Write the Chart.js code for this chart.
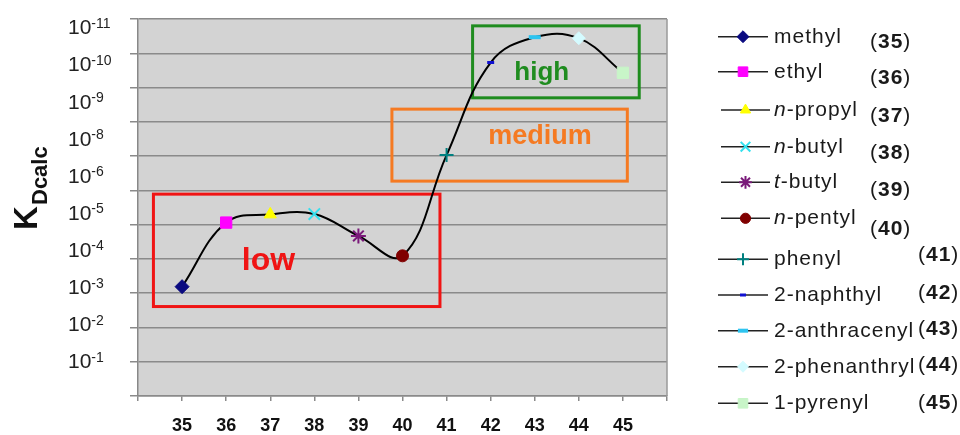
<!DOCTYPE html>
<html><head><meta charset="utf-8">
<script src="https://cdn.jsdelivr.net/npm/chart.js@4.4.1/dist/chart.umd.min.js"></script>
<style>html,body{margin:0;padding:0;background:#fff;}#wrap{position:relative;width:960px;height:435px;}</style>
</head><body><div id="wrap"><canvas id="c"></canvas></div>
<script>
// ---- data ----
const compoundIds = [35, 36, 37, 38, 39, 40, 41, 42, 43, 44, 45];
const compoundNames = ['methyl', 'ethyl', 'n-propyl', 'n-butyl', 't-butyl', 'n-pentyl', 'phenyl', '2-naphthyl', '2-anthracenyl', '2-phenanthryl', '1-pyrenyl'];
// position of each K_Dcalc on the grid scale (grid steps counted from the bottom line)
const kdGridLevel = [3.19, 5.06, 5.30, 5.31, 4.67, 4.09, 7.03, 9.73, 10.47, 10.44, 9.43];
// y tick labels, bottom to top: base and exponent
const yTickBase = ['10', '10', '10', '10', '10', '10', '10', '10', '10', '10'];
const yTickExp = ['-1', '-2', '-3', '-4', '-5', '-6', '-8', '-9', '-10', '-11'];
const regionLabels = ['low', 'medium', 'high'];

// ---- styles ----
const markerColors = ['#0a0a80', '#ff00ff', '#ffff00', '#33e0ee', '#7a1a7a', '#800000', '#008080', '#1010d0', '#2ec4f0', '#d4fbff', '#c8f5c8'];
const markerStyles = ['rectRot', 'rect', 'triangle', 'crossRot', 'star', 'circle', 'cross', 'line', 'line', 'rectRot', 'rect'];
const markerRadius = [7, 8, 7, 8, 7.5, 6, 7, 3.5, 6, 6.5, 8];
const markerBorder = [1, 1, 1, 2, 2, 1, 2, 3, 4, 1, 1];
const regionBoxes = [
  {x0: 34.35, x1: 40.85, y0: 2.61, y1: 5.89, tx: 36.96, ty: 3.92, color: '#f01414', font: 'bold 32px "Liberation Sans", Arial, sans-serif'},
  {x0: 39.76, x1: 45.10, y0: 6.27, y1: 8.37, tx: 43.12, ty: 7.57, color: '#f57a22', font: 'bold 27px "Liberation Sans", Arial, sans-serif'},
  {x0: 41.59, x1: 45.37, y0: 8.70, y1: 10.80, tx: 43.16, ty: 9.43, color: '#1f8c1f', font: 'bold 26px "Liberation Sans", Arial, sans-serif'}
];
const legendRowY = [36.7, 71.7, 110, 146.7, 182.3, 218.3, 259.3, 295, 330.7, 366.7, 403.3];
const legendNumY = [48, 84, 122, 159, 196, 235, 261, 299, 335, 371, 409];
const FONT = '"Liberation Sans", Arial, sans-serif';

const curveDataset = {
  type: 'line', label: 'curve',
  data: compoundIds.map((id, i) => ({x: id, y: kdGridLevel[i]})),
  borderColor: '#000', borderWidth: 2, pointRadius: 0, tension: 0.4, fill: false, order: 2
};
const markerDatasets = compoundIds.map((id, i) => ({
  type: 'scatter', label: compoundNames[i],
  data: [{x: id, y: kdGridLevel[i]}],
  pointStyle: markerStyles[i], pointRadius: markerRadius[i],
  backgroundColor: markerColors[i], borderColor: markerColors[i],
  pointBorderWidth: markerBorder[i], showLine: false, order: 1
}));

const decor = {
  id: 'decor',
  beforeDraw(chart) {
    const {ctx, chartArea: a} = chart;
    ctx.save();
    ctx.fillStyle = '#d3d3d3';
    ctx.fillRect(a.left, a.top, a.right - a.left, a.bottom - a.top);
    ctx.restore();
  },
  beforeDatasetsDraw(chart) {
    const {ctx, chartArea: a, scales} = chart;
    const xs = scales.x, ys = scales.y;
    ctx.save();
    ctx.strokeStyle = '#9a9a9a'; ctx.lineWidth = 1.5;
    ctx.beginPath(); ctx.moveTo(a.right, a.top); ctx.lineTo(a.right, a.bottom); ctx.stroke();
    regionBoxes.forEach((r, i) => {
      const l = xs.getPixelForValue(r.x0), rr = xs.getPixelForValue(r.x1);
      const t = ys.getPixelForValue(r.y1), b = ys.getPixelForValue(r.y0);
      ctx.strokeStyle = r.color; ctx.lineWidth = 3;
      ctx.strokeRect(l, t, rr - l, b - t);
      ctx.fillStyle = r.color; ctx.font = r.font;
      ctx.textAlign = 'center'; ctx.textBaseline = 'middle';
      ctx.fillText(regionLabels[i], xs.getPixelForValue(r.tx), ys.getPixelForValue(r.ty));
    });
    ctx.restore();
  },
  afterDraw(chart) {
    const ctx = chart.ctx;
    // y tick labels (base + superscript exponent) placed by the y2 scale
    const y2 = chart.scales.y2;
    ctx.save();
    ctx.fillStyle = '#222'; ctx.textAlign = 'left'; ctx.textBaseline = 'alphabetic';
    yTickBase.forEach((b, k) => {
      const yc = y2.getPixelForValue(k);
      const x = y2.left;
      ctx.font = '21px ' + FONT; ctx.fillText(b, x, yc + 7.5);
      const w = ctx.measureText(b).width;
      ctx.font = '14px ' + FONT; ctx.fillText(yTickExp[k], x + w, yc + 1);
    });
    ctx.restore();
    // y-axis title K_Dcalc
    ctx.save();
    ctx.fillStyle = '#111';
    ctx.translate(37, 230); ctx.rotate(-Math.PI / 2);
    ctx.textAlign = 'left'; ctx.textBaseline = 'alphabetic';
    ctx.font = 'bold 33px ' + FONT; ctx.fillText('K', 0, 0);
    ctx.font = 'bold 22px ' + FONT; ctx.fillText('Dcalc', 25, 10);
    ctx.restore();
    // legend
    ctx.save();
    try { ctx.letterSpacing = '1px'; } catch (e) {}
    compoundNames.forEach((name, i) => {
      const y = legendRowY[i];
      const x0 = (i >= 2 && i <= 5) ? 721 : 718, x1 = (i >= 2 && i <= 5) ? 770 : 768;
      ctx.strokeStyle = '#222'; ctx.lineWidth = 1.5;
      ctx.beginPath(); ctx.moveTo(x0, y); ctx.lineTo(x1, y); ctx.stroke();
      ctx.fillStyle = markerColors[i]; ctx.strokeStyle = markerColors[i];
      ctx.lineWidth = markerBorder[i];
      Chart.helpers.drawPoint(ctx, {pointStyle: markerStyles[i], radius: markerRadius[i] * 0.85, rotation: 0, borderWidth: markerBorder[i]}, (x0 + x1) / 2, y);
      ctx.fillStyle = '#1a1a1a'; ctx.textAlign = 'left'; ctx.textBaseline = 'alphabetic';
      let tx = 774;
      const m = name.match(/^([nt])(-.*)$/);
      if (m) {
        ctx.font = 'italic 21px ' + FONT; ctx.fillText(m[1], tx, y + 6); tx += ctx.measureText(m[1]).width;
        ctx.font = '21px ' + FONT; ctx.fillText(m[2], tx, y + 6);
      } else {
        ctx.font = '21px ' + FONT; ctx.fillText(name, tx, y + 6);
      }
      let nx = i <= 5 ? 870 : 918; const ny = legendNumY[i];
      ctx.font = '21px ' + FONT; ctx.fillText('(', nx, ny); nx += ctx.measureText('(').width;
      ctx.font = 'bold 21px ' + FONT; ctx.fillText(String(compoundIds[i]), nx, ny); nx += ctx.measureText(String(compoundIds[i])).width;
      ctx.font = '21px ' + FONT; ctx.fillText(')', nx, ny);
    });
    ctx.restore();
  }
};

new Chart(document.getElementById('c'), {
  data: {datasets: [curveDataset, ...markerDatasets]},
  plugins: [decor],
  options: {
    responsive: true, maintainAspectRatio: false, animation: false, events: [],
    layout: {padding: {left: 68, right: 293, top: 19, bottom: 0}},
    plugins: {legend: {display: false}, tooltip: {enabled: false}},
    scales: {
      x: {
        type: 'linear', min: 34, max: 46,
        afterBuildTicks: s => { s.ticks = []; for (let v = 34; v <= 46; v++) s.ticks.push({value: v}); },
        afterFit: s => { s.height = 39; },
        ticks: {autoSkip: false, maxRotation: 0, padding: 16, color: '#111',
          font: {family: FONT, size: 18, weight: 'bold', lineHeight: 1},
          callback: v => (v >= 35 && v <= 45) ? String(v) : ''},
        grid: {drawOnChartArea: false, drawTicks: true, tickLength: 5, color: '#8a8a8a', lineWidth: 1.5},
        border: {color: '#8a8a8a', width: 1.5}
      },
      y: {
        type: 'linear', position: 'left', min: 0, max: 11, weight: 0,
        afterBuildTicks: s => { s.ticks = []; for (let v = 0; v <= 11; v++) s.ticks.push({value: v}); },
        afterFit: s => { s.width = 8; },
        ticks: {display: false},
        grid: {color: '#8a8a8a', lineWidth: 1.5, tickLength: 8},
        border: {color: '#888', width: 1.5}
      },
      y2: {
        type: 'linear', position: 'left', min: -0.95, max: 9.21, weight: 1,
        afterBuildTicks: s => { s.ticks = yTickBase.map((_, k) => ({value: k})); },
        afterFit: s => { s.width = 62; },
        ticks: {display: false},
        grid: {display: false, drawTicks: false},
        border: {display: false}
      }
    }
  }
});
</script></body></html>
